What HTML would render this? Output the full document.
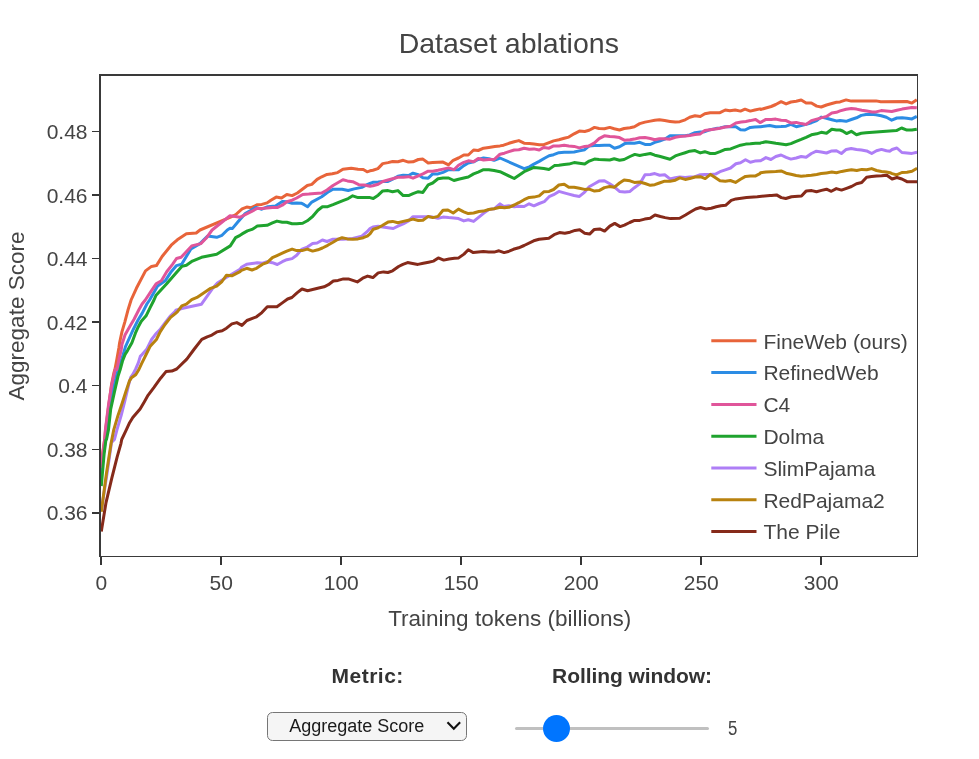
<!DOCTYPE html>
<html><head><meta charset="utf-8"><title>Dataset ablations</title>
<style>
html,body{margin:0;padding:0;background:#fff;}
body{width:979px;height:759px;position:relative;overflow:hidden;font-family:"Liberation Sans",Arial,sans-serif;}
.lbl{position:absolute;font-weight:bold;color:#333;font-size:21px;line-height:24px;white-space:nowrap;transform:translateX(-50%);}
.sel{position:absolute;left:267px;top:711.5px;width:200px;height:29.5px;box-sizing:border-box;border:1px solid #767676;border-radius:5.5px;background:#f5f5f5;}
.sel span{position:absolute;left:-1.2px;width:180px;text-align:center;top:-0.7px;line-height:28px;font-size:18px;color:#1a1a1a;padding-left:0;}
.sel svg{position:absolute;left:178px;top:8.5px;}
.track{position:absolute;left:515px;top:726.8px;width:194px;height:3px;border-radius:1.5px;background:#c0c0c0;}
.thumb{position:absolute;left:543px;top:714.6px;width:27.4px;height:27.4px;border-radius:50%;background:#0075ff;}
.val{position:absolute;left:728px;top:716px;font-size:20px;line-height:24px;color:#444;transform:scaleX(0.84);transform-origin:left center;}
</style></head><body>
<svg width="979" height="650" viewBox="0 0 979 650" style="position:absolute;left:0;top:0">
<defs><clipPath id="cp"><rect x="101" y="76" width="816.5" height="480.5"/></clipPath></defs>
<g clip-path="url(#cp)" fill="none" stroke-width="3" stroke-linejoin="round" stroke-linecap="butt">
<path d="M101.3,472.0 L102.6,453.2 L104.7,439.5 L105.6,429.6 L108.8,404.9 L111.5,384.8 L113.8,373.2 L114.9,369.5 L116.9,359.0 L118.9,347.8 L119.6,342.7 L122.0,331.6 L124.8,322.1 L127.9,310.3 L131.1,300.0 L136.4,288.3 L145.5,270.9 L151.5,266.4 L156.4,265.6 L162.1,256.5 L171.2,245.2 L177.3,239.8 L186.4,233.8 L196.2,233.0 L200.0,230.0 L230.0,217.3 L235.3,215.0 L242.1,208.9 L246.7,207.1 L251.2,207.7 L257.3,204.7 L261.8,204.4 L267.1,202.9 L270.9,200.2 L276.2,197.1 L281.5,198.0 L286.8,194.5 L292.1,195.6 L297.4,193.0 L302.0,189.5 L307.3,185.5 L311.8,184.4 L317.1,179.4 L321.7,176.8 L327.0,174.4 L332.3,173.8 L337.6,172.6 L342.9,169.2 L351.2,168.3 L358.0,169.2 L363.3,169.5 L367.1,171.8 L370.0,170.8 L372.9,170.2 L377.9,168.6 L382.7,163.6 L388.0,162.6 L392.6,161.5 L397.9,161.8 L403.2,160.3 L408.5,162.1 L413.0,161.8 L418.3,159.5 L422.9,159.1 L428.2,163.0 L432.7,162.6 L438.0,162.3 L443.0,162.1 L448.6,164.8 L453.2,160.3 L458.5,158.0 L463.8,155.0 L468.3,155.0 L473.6,150.0 L478.2,150.5 L483.5,148.2 L488.8,147.4 L494.8,146.4 L500.0,145.9 L503.6,145.2 L508.9,143.3 L514.2,141.7 L518.8,140.6 L524.1,143.2 L529.4,143.6 L533.9,144.1 L539.2,144.7 L543.8,144.7 L549.1,142.6 L553.6,140.9 L558.9,139.8 L564.2,138.3 L568.8,137.1 L574.1,133.8 L579.4,131.1 L584.7,131.5 L589.2,130.3 L594.5,127.4 L599.1,128.5 L604.4,128.8 L609.7,127.4 L614.2,128.8 L619.5,130.0 L624.1,128.5 L630.0,127.7 L634.4,126.7 L639.7,123.6 L645.0,122.1 L650.3,121.1 L654.8,120.2 L659.4,119.8 L664.7,120.6 L670.0,121.4 L675.3,122.1 L679.8,121.7 L685.2,119.8 L689.7,117.3 L695.0,115.8 L700.3,116.5 L704.8,113.8 L710.2,112.7 L715.5,112.7 L720.0,112.7 L725.3,110.0 L729.8,110.8 L735.2,110.0 L740.5,111.1 L745.0,109.2 L750.3,111.1 L754.8,110.0 L760.0,108.9 L760.6,109.5 L765.9,108.0 L771.2,106.5 L775.8,104.5 L781.1,101.7 L786.1,103.9 L790.9,102.0 L796.2,101.2 L801.2,100.0 L806.1,103.0 L811.4,103.0 L816.7,106.1 L821.2,107.0 L826.5,105.0 L831.8,103.5 L836.4,102.3 L840.0,101.9 L846.1,99.9 L851.3,101.1 L876.0,100.9 L880.8,101.8 L906.9,101.5 L911.9,103.1 L916.8,99.8" stroke="#E8643A"/>
<path d="M101.3,476.0 L103.6,453.2 L105.5,439.5 L107.0,429.6 L109.8,407.0 L113.3,389.0 L117.0,373.2 L118.9,369.5 L121.2,361.0 L123.8,352.4 L125.5,346.6 L128.7,339.5 L133.4,329.2 L138.2,319.8 L142.1,313.4 L146.9,304.0 L149.6,300.0 L157.6,286.1 L165.2,280.8 L171.2,271.7 L176.5,265.6 L181.8,264.1 L190.9,248.9 L200.0,243.6 L207.6,236.1 L216.7,237.3 L222.0,235.3 L227.3,230.0 L230.0,228.3 L232.3,228.6 L237.6,222.3 L245.2,213.5 L250.5,210.5 L255.8,207.4 L261.8,209.2 L267.9,206.7 L275.5,205.9 L282.3,201.4 L286.8,201.8 L292.1,203.2 L296.7,202.9 L301.2,203.2 L304.2,204.7 L307.6,206.7 L311.8,202.1 L321.7,196.8 L327.7,192.3 L333.0,189.2 L342.1,189.2 L348.2,190.5 L354.2,188.9 L361.8,187.4 L367.1,184.7 L370.0,183.5 L372.9,182.3 L378.2,182.0 L382.7,181.5 L388.0,181.5 L392.6,179.2 L397.9,176.2 L403.2,175.2 L408.5,175.5 L413.0,173.2 L418.3,174.7 L422.9,177.7 L428.2,178.2 L432.7,173.9 L438.0,173.9 L443.0,172.4 L448.6,169.7 L453.9,169.8 L458.5,169.7 L463.8,165.6 L468.3,163.0 L473.6,161.8 L478.2,159.5 L483.5,158.0 L488.8,158.8 L494.1,160.3 L500.0,158.0 L524.1,168.6 L529.4,166.8 L533.9,164.1 L539.2,161.4 L544.5,158.3 L549.1,155.8 L553.6,154.7 L558.9,152.7 L564.2,152.3 L568.8,152.3 L574.1,152.0 L579.4,150.9 L584.7,149.7 L589.2,145.9 L594.5,145.6 L599.1,145.5 L604.4,145.2 L609.7,145.2 L614.5,148.2 L619.5,146.7 L624.8,143.6 L630.0,142.9 L634.4,143.3 L639.7,142.3 L645.0,144.4 L650.3,144.5 L654.8,142.3 L659.4,141.1 L664.7,139.2 L670.0,135.8 L675.3,135.8 L679.8,135.8 L685.2,135.8 L689.7,135.0 L695.0,132.7 L700.3,132.0 L704.8,131.7 L710.2,129.7 L715.5,128.6 L720.0,127.9 L725.3,126.7 L730.6,126.4 L735.9,126.7 L740.5,129.7 L745.0,130.0 L750.3,127.4 L754.8,127.1 L760.0,126.7 L760.6,126.7 L765.9,125.9 L769.7,125.5 L775.8,126.7 L781.1,126.5 L786.1,126.2 L790.9,124.4 L796.2,126.7 L801.2,125.5 L806.1,124.4 L811.4,122.7 L816.7,120.6 L821.2,117.1 L826.5,118.2 L831.8,119.7 L836.4,120.9 L840.0,120.6 L846.1,121.3 L851.3,119.5 L856.5,117.8 L861.3,115.4 L866.0,114.5 L871.3,114.3 L876.0,114.8 L881.2,115.8 L886.4,117.3 L891.7,120.2 L896.9,118.0 L902.1,117.8 L906.9,118.3 L911.9,118.9 L916.8,116.3" stroke="#2C8CE4"/>
<path d="M101.3,468.0 L102.9,453.2 L104.6,439.5 L105.4,429.6 L108.5,404.9 L111.7,384.8 L115.4,369.0 L116.9,369.5 L118.9,359.7 L121.2,349.8 L122.0,344.2 L125.1,334.8 L129.5,326.9 L134.2,319.0 L139.0,309.5 L142.1,304.0 L145.3,300.0 L151.5,290.6 L156.1,283.8 L161.4,280.8 L166.7,271.7 L172.7,264.1 L176.5,258.5 L181.1,257.3 L191.7,245.9 L200.8,243.6 L206.1,238.3 L212.1,230.0 L230.0,215.8 L235.3,216.5 L239.8,217.3 L245.2,214.7 L251.2,211.7 L256.5,208.6 L261.8,208.6 L267.1,207.9 L272.4,207.4 L277.7,207.4 L282.3,205.2 L286.8,201.8 L292.1,200.2 L296.7,198.0 L302.7,194.5 L308.8,194.1 L314.8,193.5 L321.7,193.0 L327.0,190.0 L333.0,185.5 L342.9,179.8 L347.4,180.9 L352.7,181.7 L358.8,184.7 L364.1,185.0 L370.0,186.2 L372.9,185.8 L378.2,184.2 L382.7,181.5 L388.0,180.0 L392.6,178.8 L397.9,177.3 L403.2,177.3 L408.5,176.7 L413.0,178.2 L418.3,175.8 L422.9,173.9 L428.2,171.2 L432.7,171.2 L438.0,170.2 L443.0,169.1 L448.6,167.9 L453.9,169.7 L458.5,165.2 L463.8,162.3 L468.3,160.8 L473.6,161.8 L478.2,158.5 L483.5,160.0 L488.8,159.5 L494.1,159.5 L500.0,154.2 L504.4,153.2 L508.9,151.7 L514.2,150.0 L518.8,149.7 L524.1,148.2 L529.4,149.2 L533.9,148.9 L539.2,150.0 L543.8,147.4 L549.1,148.2 L553.6,145.9 L558.9,145.9 L564.2,145.2 L568.8,145.9 L574.1,146.4 L579.4,147.9 L584.7,146.4 L589.2,145.9 L594.5,142.9 L599.1,138.6 L604.4,135.8 L609.7,136.5 L614.2,136.8 L619.5,137.6 L624.8,140.3 L630.0,139.8 L634.4,139.1 L639.7,137.7 L645.0,137.6 L650.3,138.5 L654.8,139.8 L659.4,138.8 L664.7,138.8 L670.0,139.2 L675.3,137.3 L679.8,136.5 L685.2,136.1 L689.7,135.5 L695.0,134.5 L700.3,133.9 L704.8,130.5 L710.2,129.7 L715.5,128.9 L720.0,128.2 L725.3,127.0 L730.6,126.2 L735.9,122.9 L741.2,122.1 L745.8,121.4 L750.3,120.6 L755.6,119.5 L760.0,122.6 L760.6,122.4 L765.9,119.4 L771.2,119.4 L775.8,119.1 L781.1,120.2 L786.1,120.6 L790.9,122.9 L796.2,122.4 L801.2,123.6 L806.1,124.4 L811.4,120.6 L816.7,119.1 L821.2,117.9 L826.5,116.4 L831.8,113.0 L836.4,112.3 L840.0,110.9 L846.1,109.3 L851.3,108.6 L856.5,109.1 L861.7,110.2 L866.9,111.0 L872.1,111.9 L876.0,111.9 L881.2,110.6 L886.4,111.0 L891.7,111.5 L896.9,110.2 L902.1,109.1 L906.9,108.3 L911.9,107.4 L916.8,107.7" stroke="#E0559A"/>
<path d="M101.3,486.1 L104.2,453.2 L105.9,440.0 L106.5,439.5 L108.5,429.6 L110.7,409.1 L114.4,392.2 L118.0,376.4 L120.2,369.5 L122.5,361.0 L125.1,354.4 L127.5,350.6 L131.9,342.7 L135.4,333.2 L138.2,326.9 L141.3,321.3 L146.1,315.8 L150.0,307.9 L154.0,300.0 L156.1,295.2 L166.7,283.8 L175.8,273.2 L181.8,266.4 L186.4,265.2 L192.4,261.1 L201.5,257.3 L216.7,254.2 L230.3,245.9 L235.6,237.6 L240.0,235.3 L242.1,233.9 L247.4,230.9 L252.0,229.4 L257.3,226.1 L267.1,225.3 L272.4,222.9 L277.0,221.1 L282.3,222.3 L286.8,222.3 L292.1,223.8 L296.7,223.8 L302.7,223.3 L307.3,220.8 L312.6,216.5 L317.9,210.2 L322.4,206.7 L327.7,206.7 L333.0,204.7 L342.9,200.6 L348.2,198.6 L352.7,195.8 L358.0,197.6 L370.0,197.6 L373.3,198.5 L378.2,195.2 L382.7,190.9 L388.0,190.6 L392.6,191.7 L397.9,190.6 L403.2,195.6 L408.5,195.6 L413.0,193.6 L418.3,191.7 L422.9,192.4 L428.2,184.8 L432.7,183.0 L438.0,178.8 L443.0,178.0 L448.6,178.0 L453.9,180.5 L458.5,179.2 L463.8,178.0 L468.3,177.0 L473.6,173.9 L478.2,172.1 L483.5,169.7 L488.8,169.7 L494.1,170.5 L500.0,171.7 L514.2,178.5 L524.1,171.7 L529.4,169.4 L533.9,167.4 L539.2,167.9 L543.8,168.6 L549.1,169.4 L554.4,165.6 L558.9,165.2 L564.2,164.5 L568.8,164.1 L574.1,162.6 L579.4,163.3 L584.7,164.1 L589.2,161.1 L594.5,159.1 L599.1,159.5 L604.4,159.8 L609.7,160.0 L614.2,158.8 L619.5,160.3 L624.1,159.5 L630.0,156.5 L634.8,154.4 L639.7,155.5 L645.0,154.4 L650.3,153.5 L654.8,155.2 L659.4,156.2 L664.7,157.7 L670.0,159.2 L675.3,155.9 L679.8,154.4 L685.2,152.7 L689.7,151.2 L695.0,150.6 L700.3,152.9 L704.8,151.7 L710.2,153.5 L714.7,153.6 L720.0,151.7 L725.3,149.4 L730.6,148.9 L735.2,147.1 L740.5,145.2 L745.8,144.1 L750.3,143.8 L755.6,143.3 L760.0,143.3 L760.6,142.9 L765.9,141.8 L771.2,142.4 L775.8,143.2 L781.1,143.9 L786.1,144.7 L790.9,143.6 L796.2,141.4 L801.2,139.4 L806.1,137.3 L811.4,134.8 L816.7,133.8 L821.2,132.3 L826.5,133.3 L831.8,129.2 L836.4,130.0 L840.0,130.0 L842.6,131.0 L846.5,133.6 L851.3,131.3 L856.5,134.7 L861.3,133.2 L866.0,132.8 L896.4,130.6 L901.6,128.0 L906.9,130.1 L911.9,130.0 L916.8,129.3" stroke="#1FA32E"/>
<path d="M101.3,510.5 L107.1,472.9 L111.5,442.6 L114.4,439.5 L117.0,429.6 L121.2,415.4 L124.9,400.6 L128.6,384.8 L130.7,377.4 L133.0,374.2 L135.7,368.9 L138.3,362.9 L140.3,356.4 L142.1,354.5 L146.9,349.0 L151.6,339.5 L156.4,333.2 L160.3,329.2 L165.0,322.9 L170.6,315.8 L175.0,311.5 L175.8,310.3 L181.8,308.5 L190.9,306.5 L201.5,304.2 L212.1,289.1 L217.4,283.0 L225.8,277.7 L240.0,269.4 L241.4,267.3 L246.7,264.2 L252.0,263.5 L257.3,262.7 L262.6,263.2 L267.1,261.7 L272.4,262.7 L277.3,264.5 L282.3,261.7 L286.8,259.7 L292.1,258.6 L296.7,255.2 L302.0,249.1 L307.3,247.1 L312.6,243.5 L317.1,243.0 L322.4,240.0 L327.0,241.5 L333.0,239.2 L342.9,239.2 L352.7,238.5 L361.8,236.2 L367.1,231.7 L370.0,228.6 L372.9,227.0 L378.2,226.2 L382.7,227.0 L388.0,227.7 L393.3,228.5 L397.9,226.2 L403.2,223.9 L408.5,220.9 L413.0,216.7 L418.3,216.7 L422.9,216.7 L428.2,216.7 L432.7,217.1 L438.0,218.2 L443.0,217.1 L448.6,217.6 L453.9,217.9 L458.5,218.6 L463.8,220.9 L468.3,219.7 L473.6,221.4 L478.9,217.1 L483.5,213.3 L488.8,209.5 L494.1,208.8 L500.0,203.9 L503.6,206.5 L508.9,205.8 L514.2,206.8 L518.8,206.2 L524.1,206.5 L529.1,203.8 L533.9,205.8 L539.2,203.5 L544.2,201.7 L549.1,196.7 L553.6,194.7 L558.9,191.4 L564.2,192.9 L568.8,194.1 L574.1,195.5 L579.4,196.4 L584.7,192.1 L589.2,186.8 L594.5,183.8 L599.1,181.1 L604.4,180.8 L609.7,183.8 L614.2,186.8 L619.5,191.4 L624.8,192.1 L630.0,191.4 L634.4,187.7 L639.7,183.9 L645.0,174.7 L650.3,174.4 L654.8,173.6 L659.7,175.2 L664.7,174.8 L670.0,178.9 L675.3,177.7 L679.8,177.0 L685.2,177.4 L689.7,177.1 L695.0,176.7 L700.3,174.7 L704.8,174.4 L710.2,174.4 L715.5,174.1 L720.0,171.7 L725.3,169.8 L730.6,168.0 L735.9,163.8 L740.5,162.7 L745.5,159.7 L750.3,162.3 L754.8,161.1 L760.0,160.8 L760.6,160.8 L765.9,157.6 L770.9,159.5 L775.8,156.5 L781.1,155.0 L786.1,157.3 L790.9,159.1 L796.2,158.0 L801.2,156.5 L806.1,157.3 L811.4,153.5 L816.4,151.2 L821.2,152.0 L826.5,153.0 L831.8,150.9 L836.4,150.8 L841.4,153.5 L846.2,149.4 L851.2,148.6 L856.5,149.4 L861.4,150.0 L866.7,150.9 L871.7,153.5 L876.5,150.8 L881.5,149.4 L886.4,150.8 L890.0,151.2 L892.1,149.5 L896.9,148.0 L901.9,152.5 L907.0,153.0 L912.0,153.4 L917.1,152.2" stroke="#AE7EF6"/>
<path d="M101.3,511.8 L106.5,472.9 L111.2,442.6 L113.8,429.6 L118.0,415.4 L122.3,402.7 L126.0,391.1 L129.6,380.6 L131.8,377.4 L135.7,374.8 L138.9,369.5 L141.6,363.6 L144.2,358.3 L146.1,354.5 L150.0,346.6 L156.4,339.5 L160.3,331.6 L165.0,324.5 L170.6,317.4 L175.0,313.8 L177.3,311.8 L181.8,305.8 L186.4,304.2 L191.7,299.7 L197.0,297.4 L210.6,288.3 L216.7,286.1 L222.0,281.5 L226.5,275.2 L231.8,275.8 L240.0,271.7 L241.4,270.3 L246.7,268.3 L252.0,270.0 L256.5,268.3 L262.6,264.2 L267.1,262.7 L272.4,257.7 L277.0,255.6 L282.3,253.2 L286.8,251.1 L292.1,249.1 L296.7,250.6 L302.0,250.6 L307.3,249.1 L312.6,251.1 L317.9,249.8 L322.4,248.0 L327.7,245.3 L333.0,242.3 L337.6,239.5 L342.1,237.7 L347.4,238.9 L352.7,239.2 L358.0,238.9 L363.3,237.7 L367.1,236.2 L370.0,233.9 L373.3,229.2 L378.2,227.7 L382.7,225.2 L388.0,222.1 L392.6,221.4 L397.9,222.7 L403.2,221.4 L408.5,220.2 L413.0,219.1 L418.3,220.5 L422.9,220.2 L428.2,216.4 L432.7,217.6 L438.0,216.4 L443.0,210.3 L447.9,210.0 L453.2,213.0 L458.5,209.1 L463.8,211.8 L468.3,213.6 L473.6,213.0 L478.9,211.5 L483.5,211.1 L488.8,209.5 L494.1,208.8 L500.0,207.3 L504.4,207.7 L508.9,207.3 L514.2,205.0 L518.8,202.7 L524.1,199.7 L529.1,197.4 L533.9,197.1 L539.2,195.9 L543.8,191.8 L549.1,191.4 L553.6,189.5 L558.9,185.0 L564.2,184.2 L568.8,187.3 L574.1,187.3 L579.4,188.3 L584.7,189.4 L589.2,189.1 L594.5,191.1 L599.1,190.6 L604.4,187.6 L609.7,186.5 L614.2,187.3 L619.5,183.0 L624.1,180.0 L630.0,180.8 L634.4,182.4 L639.7,182.0 L645.0,183.5 L650.3,185.3 L654.8,184.7 L659.4,183.0 L664.7,181.2 L670.0,181.2 L675.3,180.2 L679.8,177.9 L685.2,179.4 L689.7,178.6 L695.0,177.0 L700.3,176.7 L705.2,178.6 L710.5,174.4 L715.5,177.7 L720.0,180.8 L725.3,181.2 L730.3,180.5 L735.5,182.4 L740.5,179.2 L745.5,176.4 L750.3,175.9 L755.6,175.9 L760.0,173.6 L760.6,172.7 L765.9,172.1 L771.2,171.7 L775.8,171.4 L781.1,170.9 L786.1,173.2 L790.9,174.2 L796.2,175.5 L801.2,176.2 L806.1,175.8 L811.4,175.2 L816.7,174.4 L821.2,173.6 L826.5,172.9 L831.8,172.1 L836.4,172.7 L841.7,171.4 L846.7,170.6 L851.5,169.8 L856.8,170.5 L861.8,169.4 L866.7,169.8 L871.7,168.6 L876.5,170.5 L881.5,171.4 L886.4,172.0 L890.0,172.7 L892.1,173.6 L896.6,174.9 L901.9,172.5 L907.0,172.2 L912.0,171.3 L917.1,168.2" stroke="#B8820F"/>
<path d="M101.3,531.6 L105.9,503.2 L111.8,478.2 L117.1,457.1 L121.0,443.3 L121.7,439.5 L126.4,429.6 L129.6,422.7 L132.8,417.5 L140.1,409.0 L144.4,401.7 L148.0,395.3 L154.0,387.4 L160.6,378.2 L166.0,371.6 L171.8,371.1 L176.7,369.0 L186.8,359.1 L194.3,349.0 L201.8,339.4 L207.2,336.8 L211.9,335.1 L216.8,331.9 L222.2,330.8 L226.5,328.2 L231.9,323.9 L236.8,322.6 L241.9,325.4 L246.9,320.5 L256.5,316.8 L261.9,312.6 L267.3,306.8 L276.9,306.8 L282.3,302.9 L287.6,299.0 L291.9,297.5 L297.3,292.6 L302.0,289.0 L307.6,290.7 L317.7,288.3 L324.1,286.8 L328.4,284.7 L333.3,281.0 L338.0,280.4 L343.4,278.9 L348.3,278.9 L357.3,281.9 L362.7,278.2 L367.6,276.1 L370.0,276.7 L372.9,277.6 L378.2,272.9 L383.6,271.9 L387.9,272.5 L392.6,270.8 L398.6,266.5 L402.9,264.4 L407.6,262.6 L412.6,263.5 L417.9,264.4 L423.3,263.3 L428.6,262.2 L433.6,261.1 L438.3,257.9 L443.7,260.1 L449.0,259.0 L454.4,258.3 L458.7,257.9 L464.0,254.1 L468.3,249.8 L473.3,252.6 L483.3,251.5 L488.7,252.1 L494.1,252.1 L499.0,250.8 L504.1,252.6 L508.4,251.5 L513.4,249.3 L518.7,247.8 L524.1,245.5 L533.7,240.8 L539.1,239.3 L548.8,238.2 L554.1,234.7 L559.5,232.6 L564.8,233.2 L570.0,232.2 L575.0,230.4 L579.7,229.8 L584.7,233.2 L589.6,234.1 L594.3,229.4 L599.7,228.9 L604.6,231.1 L609.8,226.1 L614.7,223.4 L620.1,226.6 L624.4,225.1 L629.7,222.5 L634.6,220.4 L639.8,220.4 L644.7,219.1 L650.1,218.2 L655.0,215.0 L660.4,216.5 L665.1,217.6 L670.5,218.6 L679.7,218.2 L685.5,215.0 L690.8,211.8 L695.6,209.0 L700.5,207.5 L705.9,209.0 L711.2,208.3 L716.2,206.8 L720.9,205.8 L725.6,205.3 L731.2,200.4 L735.9,198.9 L746.6,197.6 L757.3,196.8 L770.0,195.5 L771.5,195.4 L776.5,194.9 L781.3,197.6 L785.8,198.5 L791.5,196.7 L801.5,196.0 L806.3,190.9 L811.7,190.6 L816.5,191.8 L821.5,190.4 L826.5,189.2 L831.3,191.3 L836.3,188.6 L841.5,190.1 L846.5,188.3 L851.5,186.5 L856.5,183.8 L861.7,182.5 L866.6,177.2 L871.6,176.6 L876.6,176.1 L881.6,175.8 L886.8,175.2 L892.1,179.0 L896.9,177.5 L901.9,179.0 L907.0,181.7 L917.1,181.7" stroke="#862A1A"/>
</g>
<g fill="#3a3a3a" shape-rendering="crispEdges">
<rect x="99" y="74" width="2" height="483"/>
<rect x="99" y="74" width="819" height="2"/>
<rect x="917" y="74" width="1" height="483"/>
<rect x="99" y="556" width="819" height="1"/>
</g>
<g fill="#363636" shape-rendering="crispEdges">
<rect x="100" y="557" width="2" height="8"/>
<rect x="220" y="557" width="2" height="8"/>
<rect x="340" y="557" width="2" height="8"/>
<rect x="460" y="557" width="2" height="8"/>
<rect x="580" y="557" width="2" height="8"/>
<rect x="700" y="557" width="2" height="8"/>
<rect x="820" y="557" width="2" height="8"/>
<rect x="92" y="131" width="7" height="1"/>
<rect x="92" y="194" width="7" height="2"/>
<rect x="92" y="258" width="7" height="1"/>
<rect x="92" y="321" width="7" height="2"/>
<rect x="92" y="385" width="7" height="1"/>
<rect x="92" y="449" width="7" height="1"/>
<rect x="92" y="512" width="7" height="2"/>
</g>
<g font-family="'Liberation Sans', Arial, sans-serif" font-size="21" fill="#444">
<text x="101.3" y="590" text-anchor="middle">0</text>
<text x="221.3" y="590" text-anchor="middle">50</text>
<text x="341.3" y="590" text-anchor="middle">100</text>
<text x="461.3" y="590" text-anchor="middle">150</text>
<text x="581.3" y="590" text-anchor="middle">200</text>
<text x="701.3" y="590" text-anchor="middle">250</text>
<text x="821.3" y="590" text-anchor="middle">300</text>
<text x="87.5" y="520.3" text-anchor="end">0.36</text>
<text x="87.5" y="456.8" text-anchor="end">0.38</text>
<text x="87.5" y="393.2" text-anchor="end">0.4</text>
<text x="87.5" y="329.7" text-anchor="end">0.42</text>
<text x="87.5" y="266.2" text-anchor="end">0.44</text>
<text x="87.5" y="202.6" text-anchor="end">0.46</text>
<text x="87.5" y="139.1" text-anchor="end">0.48</text>
</g>
<g font-family="'Liberation Sans', Arial, sans-serif" fill="#444">
<text x="508.8" y="53" font-size="28.5" text-anchor="middle">Dataset ablations</text>
<text x="509.7" y="626" font-size="22.5" text-anchor="middle">Training tokens (billions)</text>
<text transform="translate(24.3,316) rotate(-90)" font-size="22.5" text-anchor="middle">Aggregate Score</text>
</g>
<g font-family="'Liberation Sans', Arial, sans-serif" font-size="21" fill="#444">
<line x1="711.3" y1="340.8" x2="756.5" y2="340.8" stroke="#E8643A" stroke-width="3"/>
<text x="763.4" y="348.6">FineWeb (ours)</text>
<line x1="711.3" y1="372.6" x2="756.5" y2="372.6" stroke="#2C8CE4" stroke-width="3"/>
<text x="763.4" y="380.4">RefinedWeb</text>
<line x1="711.3" y1="404.4" x2="756.5" y2="404.4" stroke="#E0559A" stroke-width="3"/>
<text x="763.4" y="412.2">C4</text>
<line x1="711.3" y1="436.2" x2="756.5" y2="436.2" stroke="#1FA32E" stroke-width="3"/>
<text x="763.4" y="444.0">Dolma</text>
<line x1="711.3" y1="468.0" x2="756.5" y2="468.0" stroke="#AE7EF6" stroke-width="3"/>
<text x="763.4" y="475.8">SlimPajama</text>
<line x1="711.3" y1="499.8" x2="756.5" y2="499.8" stroke="#B8820F" stroke-width="3"/>
<text x="763.4" y="507.6">RedPajama2</text>
<line x1="711.3" y1="531.6" x2="756.5" y2="531.6" stroke="#862A1A" stroke-width="3"/>
<text x="763.4" y="539.4">The Pile</text>
</g>
</svg>
<div class="lbl" style="left:367.7px;top:664px;letter-spacing:0.5px;">Metric:</div>
<div class="lbl" style="left:632px;top:664px;letter-spacing:-0.07px;">Rolling window:</div>
<div class="sel"><span>Aggregate Score</span><svg width="16" height="12" viewBox="0 0 16 12"><path d="M2.2 2 L7.8 7.8 L13.4 2" fill="none" stroke="#111" stroke-width="2.1" stroke-linecap="square" stroke-linejoin="miter"/></svg></div>
<div class="track"></div><div class="thumb"></div><div class="val">5</div>
</body></html>
